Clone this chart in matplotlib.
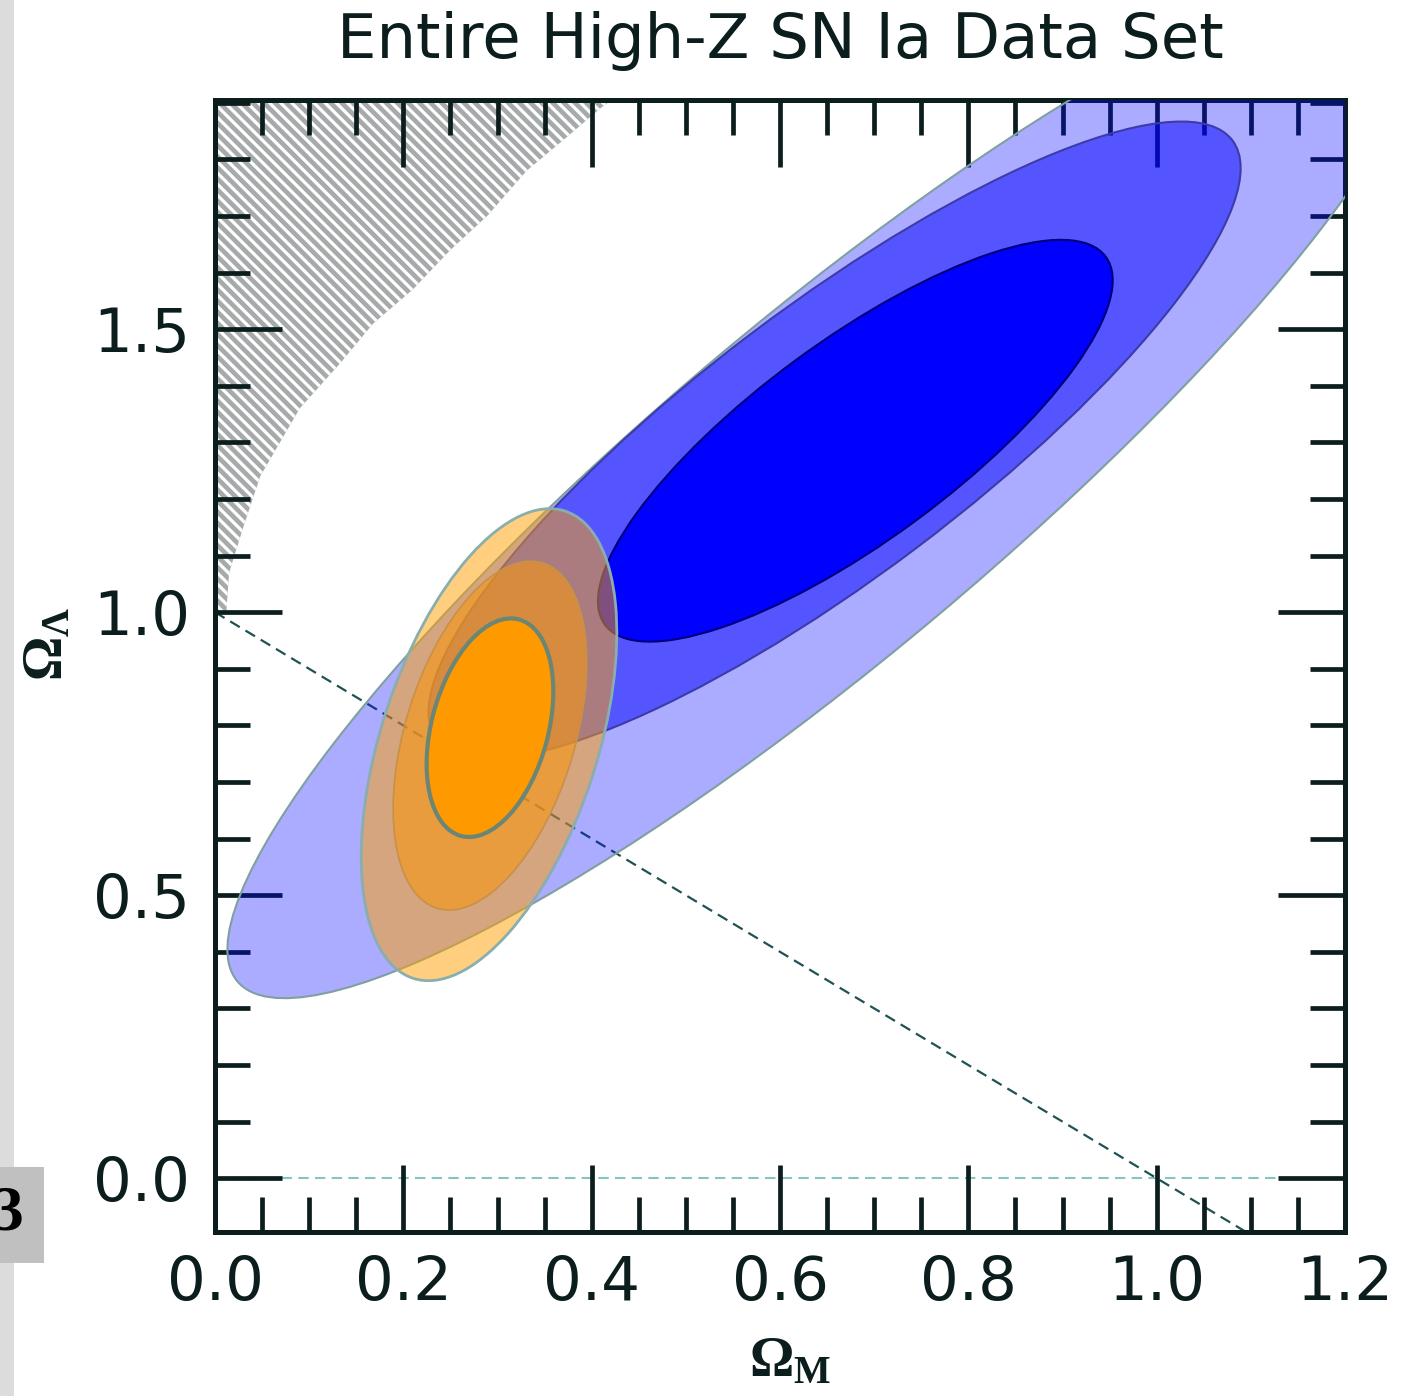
import matplotlib
matplotlib.use("Agg")
import matplotlib.pyplot as plt
import matplotlib.transforms as mtransforms
from matplotlib.patches import Ellipse, Rectangle
import numpy as np

# --- values ---
# no-big-bang region boundary (Omega_M, Omega_Lambda)
om_nobb = [0.0, 0.012, 0.015, 0.03, 0.048, 0.069, 0.09, 0.133, 0.168, 0.21,
           0.25, 0.289, 0.331, 0.374, 0.409, 0.425]
ol_nobb = [1.0, 1.0, 1.07, 1.15, 1.24, 1.30, 1.36, 1.44, 1.51, 1.57,
           1.64, 1.70, 1.78, 1.84, 1.89, 1.91]

# SN Ia confidence contours (outer, middle, inner): centre, semi axes, tilt
sn_om = [0.650, 0.658, 0.680]
sn_ol = [1.222, 1.304, 1.303]
sn_major = [1.360, 0.880, 0.549]
sn_minor = [0.300, 0.239, 0.177]
sn_angle = [40.0, 37.0, 36.3]

# CMB + clusters contours (outer, middle, inner)
cmb_om = [0.291, 0.292, 0.292]
cmb_ol = [0.766, 0.782, 0.796]
cmb_major = [0.434, 0.319, 0.198]
cmb_minor = [0.191, 0.150, 0.103]
cmb_angle = [72.0, 73.0, 75.0]

flat_om = [0.0, 1.2]
flat_ol = [1.0, -0.2]
zero_om = [0.0, 1.2]
zero_ol = [0.0, 0.0]

xticks = [0.0, 0.2, 0.4, 0.6, 0.8, 1.0, 1.2]
yticks = [0.0, 0.5, 1.0, 1.5]

ink = '#0b1d1d'
plt.rcParams['mathtext.fontset'] = 'custom'
plt.rcParams['mathtext.rm'] = 'Liberation Serif:bold'
plt.rcParams['mathtext.it'] = 'Liberation Serif:bold'
plt.rcParams['mathtext.bf'] = 'Liberation Serif:bold'
plt.rcParams['hatch.linewidth'] = 2.3

W, H = 1416, 1396
fig = plt.figure(figsize=(W/100, H/100), dpi=100, facecolor='w')

# slide remnants at the left edge
fig.patches.append(Rectangle((0, 0), 14/W, 1, transform=fig.transFigure,
                             facecolor='#dcdcdc', edgecolor='none'))
fig.patches.append(Rectangle((0, (H-1263)/H), 44/W, 96/H, transform=fig.transFigure,
                             facecolor='#c0c0c0', edgecolor='none'))
fig.text(23/W, (H-1215)/H, '3', ha='right', va='center', fontsize=46,
         family='Liberation Serif', weight='bold', color='k')

ax = fig.add_axes([215/W, 164/H, 1130/W, 1132/H])
ax.set_xlim(0, 1.2)
ax.set_ylim(-0.095, 1.905)

# hatched region
ax.fill(om_nobb + [0.0], ol_nobb + [1.91], facecolor='#a6aaaa', edgecolor='white',
        hatch='\\\\\\', linewidth=0, zorder=1)

ax.plot(zero_om, zero_ol, color='#86c4c4', lw=1.5, dashes=(5, 3), zorder=1.5)
ax.plot(flat_om, flat_ol, color='#1f5252', lw=1.6, dashes=(5, 3), zorder=1.5)

bb = ax.get_position()
k = (bb.width * W / 1.2) / (bb.height * H / 2.0)
iso = mtransforms.Affine2D().scale(1.0 / k, 1.0) + ax.transData

sn_alpha = [0.33, 0.5, 1.0]
sn_edge = ['#7fa0a0', '#3c3ca8', '#00007a']
for i in range(3):
    ax.add_patch(Ellipse((sn_om[i]*k, sn_ol[i]), 2*sn_major[i], 2*sn_minor[i],
                         angle=sn_angle[i], transform=iso, facecolor=(0, 0, 1, sn_alpha[i]),
                         edgecolor=sn_edge[i], lw=1.5, zorder=3+i*0.1))

cmb_face = [(1.0, 0.631, 0.0, 0.5), (0.96, 0.59, 0.08, 0.6), (1.0, 0.6, 0.0, 1.0)]
cmb_edge = ['#8aaeae', '#c89048', '#6c8676']
cmb_lw = [2.0, 1.2, 3.0]
for i in range(3):
    ax.add_patch(Ellipse((cmb_om[i]*k, cmb_ol[i]), 2*cmb_major[i], 2*cmb_minor[i],
                         angle=cmb_angle[i], transform=iso, facecolor=cmb_face[i],
                         edgecolor=cmb_edge[i], lw=cmb_lw[i], zorder=4+i*0.1))

ax.set_xticks(xticks)
ax.set_xticklabels(['%.1f' % v for v in xticks])
ax.set_yticks(yticks)
ax.set_yticklabels(['%.1f' % v for v in yticks])
ax.xaxis.set_minor_locator(matplotlib.ticker.MultipleLocator(0.05))
ax.yaxis.set_minor_locator(matplotlib.ticker.MultipleLocator(0.1))
ax.tick_params(which='both', direction='in', top=True, right=True, color=ink,
               width=3.4, labelsize=44, labelcolor=ink)
ax.tick_params(which='major', length=48)
ax.tick_params(which='minor', length=25)
ax.tick_params(axis='x', which='major', pad=16)
ax.tick_params(axis='y', which='major', pad=18)
for lab in ax.get_xticklabels() + ax.get_yticklabels():
    lab.set_family('DejaVu Sans')
for s in ax.spines.values():
    s.set_linewidth(3.6)
    s.set_color(ink)

ax.set_title('Entire High-Z SN Ia Data Set', fontsize=45, family='DejaVu Sans',
             color=ink, pad=30)
ax.set_xlabel(r'$\Omega_\mathrm{M}$', fontsize=40, color=ink)
ax.xaxis.set_label_coords(0.509, -0.09)
ax.set_ylabel(r'$\Omega_\Lambda$', fontsize=40, color=ink)
ax.yaxis.set_label_coords(-0.125, 0.52)

fig.savefig('out.png', dpi=100, facecolor='w')
